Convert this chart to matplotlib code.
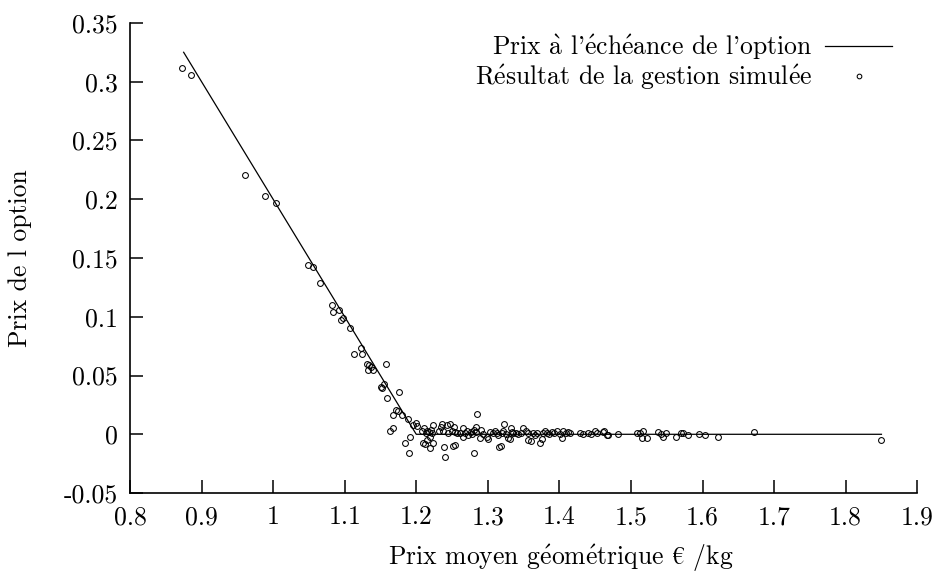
import matplotlib
matplotlib.use('Agg')
import numpy as np
from matplotlib import pyplot as plt

# payoff du put, strike 1.2
ligne_x = [0.875, 1.2, 1.85]
ligne_y = [0.325, 0.0, 0.0]

# resultats de la gestion simulee
sim_x = [0.873, 0.885, 0.961, 0.989, 1.004, 1.049, 1.056, 1.066, 1.082, 1.084,
         1.092, 1.095, 1.098, 1.108, 1.123, 1.113, 1.124, 1.131, 1.134, 1.137,
         1.133, 1.140, 1.158, 1.151, 1.152, 1.155, 1.159, 1.176, 1.172, 1.175,
         1.168, 1.180, 1.189, 1.163, 1.168, 1.196, 1.200, 1.201, 1.184, 1.191,
         1.190,
         1.208, 1.211, 1.215, 1.214, 1.218, 1.221, 1.222, 1.219, 1.215, 1.209,
         1.212, 1.223, 1.219, 1.223, 1.232, 1.235, 1.236, 1.237, 1.243, 1.244,
         1.247, 1.250, 1.253, 1.254, 1.257, 1.239, 1.240, 1.251, 1.254, 1.261,
         1.265, 1.268, 1.271, 1.272, 1.265,
         1.285, 1.280, 1.276, 1.278, 1.280, 1.283, 1.284, 1.289, 1.291, 1.293,
         1.299, 1.300, 1.303, 1.307, 1.310, 1.313, 1.314, 1.316, 1.318, 1.320,
         1.321, 1.323, 1.325, 1.328, 1.331, 1.332, 1.334, 1.335, 1.339, 1.342,
         1.346, 1.349, 1.353, 1.356, 1.356, 1.360, 1.363, 1.366, 1.369, 1.373,
         1.376, 1.377, 1.380, 1.383, 1.386, 1.390, 1.393, 1.397, 1.401, 1.404,
         1.405, 1.409, 1.412, 1.415, 1.429, 1.433, 1.440, 1.444, 1.450, 1.453,
         1.461, 1.467,
         1.463, 1.468, 1.482, 1.509, 1.512, 1.517, 1.516, 1.522, 1.538, 1.542,
         1.545, 1.549, 1.563, 1.570, 1.573, 1.580, 1.595, 1.604, 1.622, 1.672,
         1.850]
sim_y = [0.312, 0.306, 0.221, 0.203, 0.197, 0.144, 0.142, 0.129, 0.110, 0.104,
         0.106, 0.097, 0.099, 0.090, 0.073, 0.068, 0.068, 0.060, 0.059, 0.057,
         0.055, 0.055, 0.060, 0.040, 0.039, 0.043, 0.031, 0.036, 0.021, 0.020,
         0.016, 0.016, 0.013, 0.003, 0.005, 0.008, 0.010, 0.007, -0.007, -0.002,
         -0.016,
         0.003, 0.005, 0.003, 0.001, 0.002, 0.004, 0.001, -0.002, -0.005, -0.007,
         -0.008, -0.007, -0.012, 0.008, 0.003, 0.006, 0.009, 0.003, 0.008, 0.001,
         0.009, 0.003, 0.006, 0.002, 0.001, -0.011, -0.019, -0.010, -0.009, 0.001,
         0.005, 0.001, 0.003, -0.001, -0.002,
         0.017, -0.016, 0.002, 0.000, 0.004, 0.006, 0.002, -0.003, 0.004, 0.000,
         -0.002, -0.004, 0.002, 0.001, 0.003, 0.001, -0.001, -0.011, -0.010, 0.001,
         0.003, 0.009, 0.000, -0.003, -0.004, 0.005, 0.002, 0.001, 0.001, 0.000,
         0.001, 0.005, 0.003, 0.001, -0.005, -0.006, 0.001, -0.001, 0.001, -0.007,
         -0.004, 0.001, 0.003, 0.001, 0.000, 0.002, 0.001, 0.003, 0.000, -0.003,
         0.003, 0.001, 0.002, 0.001, 0.001, 0.000, 0.001, 0.000, 0.003, 0.001,
         0.002, -0.001,
         0.003, -0.001, 0.000, 0.001, 0.001, 0.003, -0.003, -0.003, 0.002, 0.000,
         -0.002, 0.001, -0.002, 0.001, 0.001, -0.001, 0.000, -0.001, -0.002, 0.002,
         -0.005]

xticks = [0.8, 0.9, 1, 1.1, 1.2, 1.3, 1.4, 1.5, 1.6, 1.7, 1.8, 1.9]
yticks = [-0.05, 0, 0.05, 0.1, 0.15, 0.2, 0.25, 0.3, 0.35]

# accents en mathtext pour rester en Computer Modern
lab_ligne = r"Prix $\mathrm{\grave{a}}$ l'$\mathrm{\acute{e}ch\acute{e}ance}$ de l'option"
lab_sim = r"$\mathrm{R\acute{e}sultat}$ de la gestion $\mathrm{simul\acute{e}e}$"
lab_x = r"Prix moyen $\mathrm{g\acute{e}om\acute{e}trique}$ $\mathrm{€}$ /kg"
lab_y = "Prix de l option"

plt.rcParams['font.family'] = ['cmr10', 'DejaVu Serif']
plt.rcParams['axes.unicode_minus'] = False
plt.rcParams['mathtext.fontset'] = 'cm'

fs = 18.5
fig = plt.figure(figsize=(9.35, 5.72), dpi=100)
ax = fig.add_axes([0.139, 0.138, 0.842, 0.822])

ax.plot(ligne_x, ligne_y, color='black', lw=0.9, label=lab_ligne)
ax.plot(sim_x, sim_y, ls='none', marker='o', mfc='none', mec='black',
        ms=4.2, mew=0.75, label=lab_sim)

ax.set_xlim(0.8, 1.9)
ax.set_ylim(-0.05, 0.35)
ax.set_xticks(xticks)
ax.set_xticklabels([f'{v:g}' for v in xticks])
ax.set_yticks(yticks)
ax.set_yticklabels([f'{v:g}' for v in yticks])

for s in ['top', 'right']:
    ax.spines[s].set_visible(False)
for s in ['left', 'bottom']:
    ax.spines[s].set_linewidth(1.2)
ax.tick_params(direction='in', length=9.5, width=1.1, labelsize=fs, pad=9)

ax.set_xlabel(lab_x, fontsize=fs)
ax.set_ylabel(lab_y, fontsize=fs)
ax.xaxis.set_label_coords(0.548, -0.105)
ax.yaxis.set_label_coords(-0.124, 0.5)

leg = ax.legend(loc='upper right', frameon=False, markerfirst=False,
                fontsize=fs, handlelength=2.6, handletextpad=0.5,
                labelspacing=0.0, borderaxespad=0.0, markerscale=0.8,
                bbox_to_anchor=(0.981, 1.0))

fig.savefig('out.png', dpi=100)
